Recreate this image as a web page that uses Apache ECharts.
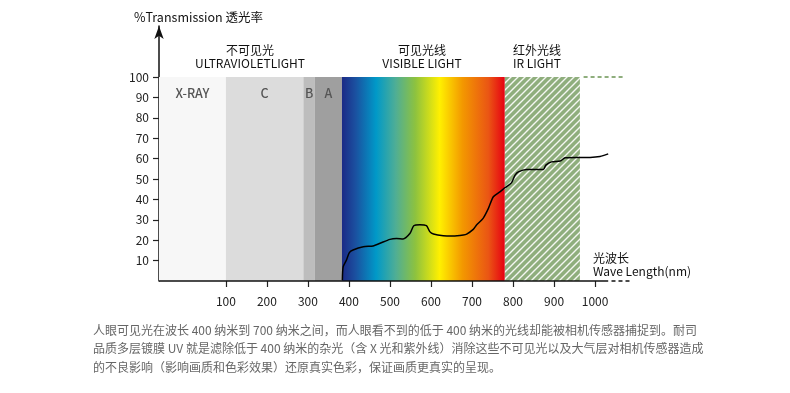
<!DOCTYPE html>
<html>
<head>
<meta charset="utf-8">
<script src="https://cdn.jsdelivr.net/npm/echarts@6/dist/echarts.min.js"></script>
<style>
html,body{margin:0;padding:0;background:#fff;}
#chart{width:790px;height:393px;}
</style>
</head>
<body>
<div id="chart"></div>
<script>
// ---- data ----
const xTicks = [100, 200, 300, 400, 500, 600, 700, 800, 900, 1000];
const yTicks = [10, 20, 30, 40, 50, 60, 70, 80, 90, 100];
const bandNames = ['X-RAY', 'C', 'B', 'A', '', ''];
const bandStart = [-63, 100, 289, 317, 383, 780];
const bandEnd   = [100, 289, 317, 383, 780, 963];
const waveLength = [384, 386, 394, 401, 410, 435, 459, 476, 500, 516, 532, 549, 558, 573, 589, 597, 606, 630, 654, 679, 687, 703, 711, 727, 740, 752, 768, 780, 796, 805, 813, 833, 874, 880, 894, 915, 927, 955, 988, 1012, 1032];
const transmission = [0.5, 7, 10.3, 13.9, 15.2, 16.8, 17.2, 18.5, 20.4, 20.8, 20.6, 23.4, 27.1, 27.6, 27.1, 24.2, 23, 22.2, 22.1, 22.6, 23, 25.3, 27.4, 30.7, 35.6, 41.3, 43.7, 45.7, 48.1, 51.9, 53.5, 54.7, 54.7, 56.8, 58.4, 58.8, 60.4, 60.6, 60.6, 61, 62.3];
const axisStart = -63, axisEnd = 1032, dashEnd = 1090;
const irDashStart = 972, irDashEnd = 1070;

// ---- styles ----
const hatch = document.createElement('canvas');
hatch.width = 7; hatch.height = 7;
(function(){
  const c = hatch.getContext('2d');
  c.fillStyle = '#8fae7d'; c.fillRect(0,0,7,7);
  c.strokeStyle = 'rgba(255,255,255,0.9)'; c.lineWidth = 1.4;
  c.beginPath();
  c.moveTo(-1,8); c.lineTo(8,-1);
  c.moveTo(-1,1); c.lineTo(1,-1);
  c.moveTo(6,8); c.lineTo(8,6);
  c.stroke();
})();
const spectrum = new echarts.graphic.LinearGradient(0,0,1,0,[
  {offset:0, color:'#1b2a86'},
  {offset:0.08, color:'#1b4f9f'},
  {offset:0.21, color:'#0099c8'},
  {offset:0.33, color:'#4fae95'},
  {offset:0.45, color:'#8dc23f'},
  {offset:0.6, color:'#fff000'},
  {offset:0.74, color:'#f39800'},
  {offset:0.9, color:'#ea5514'},
  {offset:1, color:'#e60012'}
]);
const bandColors = ['#f7f7f7', '#dcdcdc', '#bdbdbd', '#9f9f9f', spectrum, {image: hatch, repeat: 'repeat'}];

const FONT = '"Noto Sans CJK SC","Noto Sans",sans-serif';
const chart = echarts.init(document.getElementById('chart'), null, {renderer:'canvas'});

const areaData = bandStart.map((s, i) => [
  {xAxis: s, yAxis: 0, name: bandNames[i], itemStyle: {color: bandColors[i]}},
  {xAxis: bandEnd[i], yAxis: 100}
]);

const paragraph = [
  '人眼可见光在波长 400 纳米到 700 纳米之间，而人眼看不到的低于 400 纳米的光线却能被相机传感器捕捉到。耐司',
  '品质多层镀膜 UV 就是滤除低于 400 纳米的杂光（含 X 光和紫外线）消除这些不可见光以及大气层对相机传感器造成',
  '的不良影响（影响画质和色彩效果）还原真实色彩，保证画质更真实的呈现。'
];

function txt(x, y, text, opt) {
  return Object.assign({type:'text', x:x, y:y, silent:true,
    style: Object.assign({text:text, fill:'#111', font:'12px ' + FONT, textVerticalAlign:'middle'}, opt || {})});
}

chart.setOption({
  animation: false,
  backgroundColor: '#fff',
  grid: {left: 159, right: 158, top: 26, bottom: 112},
  xAxis: {
    type: 'value', min: axisStart, max: dashEnd,
    splitLine: {show: false},
    axisLine: {show: false},
    axisTick: {show: true, customValues: xTicks, length: 6, lineStyle: {color: '#222', width: 1.2}},
    axisLabel: {customValues: xTicks, margin: 14, fontSize: 12, color: '#222', fontFamily: FONT, formatter: v => String(v)}
  },
  yAxis: {
    type: 'value', min: 0, max: 125,
    splitLine: {show: false},
    axisLine: {show: true, onZero: false, symbol: ['none', 'arrow'], symbolSize: [7, 13], lineStyle: {color: '#111', width: 1.5}},
    axisTick: {show: true, customValues: yTicks, length: 6, lineStyle: {color: '#222', width: 1.2}},
    axisLabel: {customValues: yTicks, margin: 10, fontSize: 12, color: '#222', fontFamily: FONT}
  },
  series: [{
    type: 'line',
    data: waveLength.map((w, i) => [w, transmission[i]]),
    showSymbol: false,
    smooth: 0.25,
    lineStyle: {color: '#000', width: 1.5},
    z: 5,
    markArea: {
      silent: true,
      label: {show: true, position: 'insideTop', distance: 10, color: '#555', fontSize: 12.5, fontWeight: 500, fontFamily: FONT},
      data: areaData
    },
    markLine: {
      silent: true, symbol: 'none', animation: false,
      label: {show: false},
      data: [
        [{coord: [axisStart, 0], lineStyle: {color: '#111', width: 1.5, type: 'solid'}}, {coord: [axisEnd, 0]}],
        [{coord: [1040, 0], lineStyle: {color: '#111', width: 1.5, type: [4, 3]}}, {coord: [dashEnd, 0]}],
        [{coord: [irDashStart, 100], lineStyle: {color: '#8fae7d', width: 2, type: [4, 3]}}, {coord: [irDashEnd, 100]}]
      ]
    }
  }],
  graphic: [
    txt(134, 17, '%Transmission 透光率', {font: '12.5px ' + FONT}),
    txt(250, 50, '不可见光', {textAlign: 'center'}),
    txt(250, 63, 'ULTRAVIOLETLIGHT', {textAlign: 'center'}),
    txt(422, 50, '可见光线', {textAlign: 'center'}),
    txt(422, 63, 'VISIBLE LIGHT', {textAlign: 'center'}),
    txt(537, 50, '红外光线', {textAlign: 'center'}),
    txt(537, 63, 'IR LIGHT', {textAlign: 'center'}),
    txt(593, 258, '光波长'),
    txt(593, 271, 'Wave Length(nm)'),
    txt(93, 330, paragraph[0], {fill: '#666'}),
    txt(93, 348, paragraph[1], {fill: '#666'}),
    txt(93, 367, paragraph[2], {fill: '#666'})
  ]
});
</script>
</body>
</html>
